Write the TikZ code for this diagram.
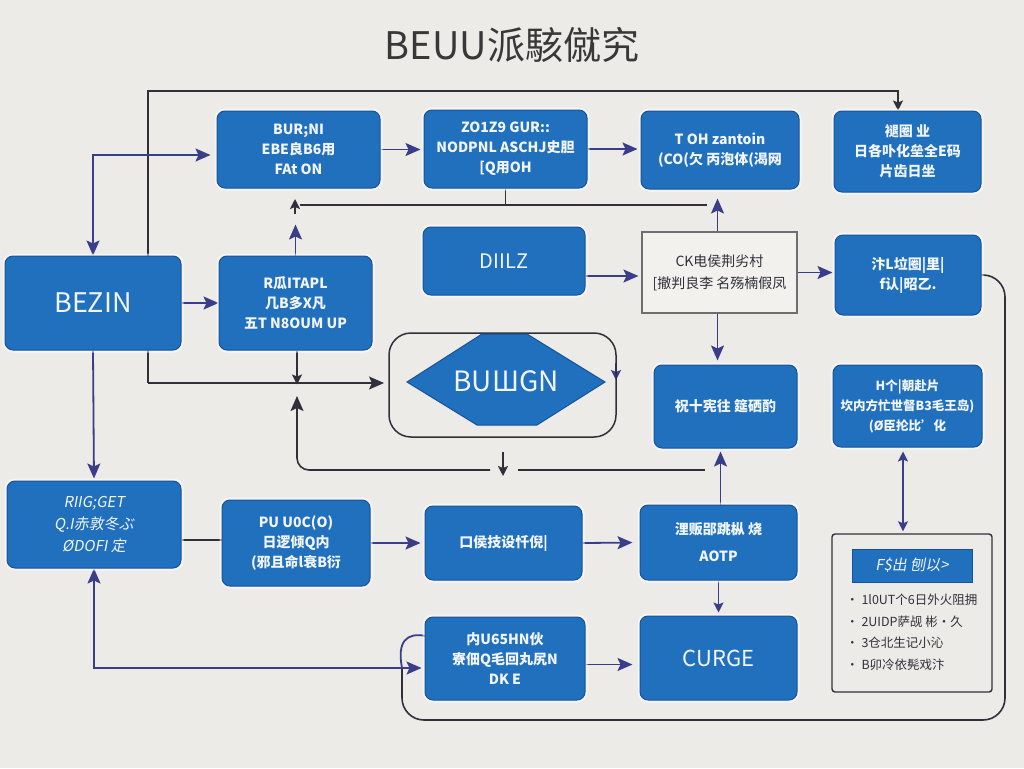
\documentclass[tikz,border=0pt]{standalone}
\usepackage{fontspec}
\setmainfont{Noto Sans CJK SC}
\newfontfamily\slfont[FakeSlant=0.18]{Noto Sans CJK SC}
\usetikzlibrary{arrows.meta,calc}
\definecolor{bgc}{RGB}{236,235,232}
\definecolor{boxf}{RGB}{32,112,190}
\definecolor{boxd}{RGB}{22,82,155}
\definecolor{arrc}{RGB}{58,62,138}
\definecolor{dkc}{RGB}{48,48,58}
\definecolor{txtc}{RGB}{242,246,252}
\definecolor{grayb}{RGB}{110,110,112}
\definecolor{grayf}{RGB}{242,241,238}
\pgfdeclarelayer{bg}
\pgfdeclarelayer{lines}
\pgfsetlayers{bg,lines,main}
\begin{document}
\begin{tikzpicture}[x=1pt,y=-1pt,
  >={Stealth[length=15pt,width=13pt,inset=3pt]},
  bbox/.style={draw=boxd, fill=boxf, rounded corners=8pt, line width=1pt,
    text=txtc, align=center, inner sep=0pt,
    font=\bfseries\fontsize{14}{20}\selectfont,
    preaction={draw=white,line width=5pt,opacity=0.55}},
  gbox/.style={draw=grayb, fill=grayf, line width=1.1pt, text=dkc,
    align=center, inner sep=0pt, font=\fontsize{14}{22}\selectfont},
  bl/.style={draw=arrc, line width=1.8pt},
  dk/.style={draw=dkc, line width=1.6pt},
  smalltip/.style={>={Stealth[length=10pt,width=10pt,inset=2pt]}},
]
\useasboundingbox (0,0) rectangle (1024,768);
\begin{pgfonlayer}{bg}
  \fill[bgc] (0,0) rectangle (1024,768);
\end{pgfonlayer}

% title
\node[font=\fontsize{38}{42}\selectfont, text=black!78] (title) at (512,45) {BEUU派駭僦究};

% top row
\node[bbox, minimum width=163pt, minimum height=77pt] (A) at (298.5,149.5) {BUR;NI\\EBE良B6用\\FAt ON};
\node[bbox, minimum width=163pt, minimum height=78pt] (B) at (505.5,149) {ZO1Z9 GUR::\\NODPNL ASCHJ史胆\\{[}Q用OH};
\node[bbox, minimum width=158pt, minimum height=78pt] (C) at (720,150) {T OH zantoin\\(CO(欠 丙泡体(渴网};
\node[bbox, minimum width=147pt, minimum height=81pt] (D) at (907.5,151.5) {褪圈 业\\日各卟化垒全E码\\片齿日坐};

% second row
\node[bbox, minimum width=176pt, minimum height=94pt, font=\fontsize{27}{30}\selectfont] (BEGIN) at (93,303) {BEZIN};
\node[bbox, minimum width=153pt, minimum height=94pt] (E) at (295.5,303) {R瓜ITAPL\\几B多X凡\\五T N8OUM UP};
\node[bbox, minimum width=162pt, minimum height=68pt, font=\fontsize{20}{22}\selectfont] (DIZ) at (504,261) {DIILZ};
\node[gbox, minimum width=155pt, minimum height=81pt] (Gray) at (719.5,272.5) {CK电侯荆劣村\\{[}撤判良李 名殇楠假凤};
\node[bbox, minimum width=146pt, minimum height=80pt] (G) at (908,275) {汴L垃圈|里|\\f认|昭乙.};

% third row
\draw[draw=dkc, line width=1.5pt, rounded corners=22pt] (389,333) rectangle (616,437);
\coordinate (framew) at (389,383);
\coordinate (framee) at (616,383);
\draw[draw=boxd, fill=boxf, line width=1pt] (407,382) -- (482,334) -- (527,334) -- (605,382) -- (537,425) -- (477,425) -- cycle;
\node[text=txtc, font=\fontsize{28}{30}\selectfont] (hex) at (506,381) {BUШGN};
\node[bbox, minimum width=143pt, minimum height=83pt] (H) at (725.5,406.5) {祝十宪往 筵硒酌};
\node[bbox, minimum width=149pt, minimum height=82pt, font=\bfseries\fontsize{12.5}{20}\selectfont] (L) at (907.5,406) {H个|朝赴片\\坎内方忙世督B3毛王岛)\\(Ø臣抡比'化};

% fourth row
\node[bbox, minimum width=174pt, minimum height=87pt, font=\slfont\fontsize{15}{22}\selectfont] (K) at (94,524.5) {RIIG;GET\\Q.I赤敦冬ぶ\\ØDOFI 定};
\node[bbox, minimum width=148pt, minimum height=86pt] (J) at (296,543) {PU U0C(O)\\日逻倾Q内\\(邪且命l衰B衍};
\node[bbox, minimum width=157pt, minimum height=74pt] (I) at (503.5,543) {口侯技设忏倪|};
\node[bbox, minimum width=157pt, minimum height=75pt, font=\bfseries\fontsize{14}{27}\selectfont] (AOTP) at (718.5,542.5) {浬贩郘跳枞 烧\\AOTP};

% fifth row
\node[bbox, minimum width=160pt, minimum height=83pt] (HU) at (505,658.5) {内U65HN伙\\寮佃Q毛回丸尻N\\DK E};
\node[bbox, minimum width=157pt, minimum height=84pt, font=\fontsize{22}{24}\selectfont] (CU) at (718.5,658) {CURGE};

% legend
\node[draw=dkc, line width=1.4pt, rounded corners=3pt, minimum width=160pt, minimum height=158pt, inner sep=0pt] (leg) at (912,613) {};
\node[draw=boxd, fill=boxf, line width=1pt, minimum width=120pt, minimum height=33pt, inner sep=0pt, text=txtc, font=\slfont\fontsize{15}{16}\selectfont] (legh) at (912,565.5) {F\$出 刨以>};
\node[anchor=north west, align=left, text=dkc, inner sep=0pt, font=\fontsize{12.5}{21.5}\selectfont] (legt) at (846,594) {• 1l0UT个6日外火阻拥\\• 2UIDP萨觇 彬·久\\• 3仓北生记小沁\\• B卯冷依髡戏汴};

% connectors
\coordinate (lt) at (148,383);
\coordinate (tl) at (148,91);
\coordinate (bary) at (0,205);
\coordinate (barl) at (300,205);
\coordinate (barr) at (707,205);
\coordinate (upa) at (295,214);
\coordinate (upb) at (295,199);
\coordinate (bot1) at (490,470);
\coordinate (botc) at (297,470);
\coordinate (bota) at (297,396);
\coordinate (bot2) at (518,470);
\coordinate (bot3) at (705,470);
\coordinate (stub1) at (503,452);
\coordinate (stub2) at (503,476);
\coordinate (lp1) at (1005,275);
\coordinate (lp2) at (1005,720);
\coordinate (lp3) at (402,720);
\coordinate (lp4) at (402,668);
\coordinate (hk) at (426,636);

\begin{pgfonlayer}{lines}
  \draw[dk,->,smalltip] (lt) -- (tl) -| ([xshift=-9.5pt]D.north);
  \draw[dk,->,shorten >=5pt] (lt) -- (framew);
  \draw[bl,<->,shorten <=6pt] ([yshift=-5.5pt]A.west) -| (BEGIN.north);
  \draw[bl,->] (BEGIN.east) -- (E.west);
  \draw[bl,->,shorten >=3pt] (A.east) -- (A.east -| B.west);
  \draw[bl,->,shorten >=3pt] (B.east) -- (B.east -| C.west);
  \draw[dk] (B.south) -- (B.south |- bary);
  \draw[dk] (barl) -- (barr);
  \draw[dk,->,smalltip] (upa) -- (upb);
  \draw[bl,->] (E.north) -- ++(0,-31);
  \draw[bl,->,shorten >=9pt] ([xshift=-2pt]Gray.north) -- ([xshift=-2pt]Gray.north |- C.south);
  \draw[bl,->,shorten >=3pt] ([yshift=-15pt]DIZ.east) -- ([yshift=-15pt]DIZ.east -| Gray.west);
  \draw[bl,->,shorten >=2pt] (Gray.east) -- (Gray.east -| G.west);
  \draw[bl,->,shorten >=4pt] ([xshift=-2pt]Gray.south) -- ([xshift=-2pt]Gray.south |- H.north);
  \draw[dk,rounded corners=22pt] (G.east) -- (lp1) -- (lp2) -- (lp3) -- (lp4);
  \draw[bl] (lp4) .. controls (397,642) and (406,632) .. (hk);
  \draw[bl,<->,shorten >=3pt] (K.south) |- ([yshift=-9.5pt]HU.west);
  \draw[bl,->,shorten >=7pt] ([yshift=-6pt]HU.east) -- ([yshift=-6pt]HU.east -| CU.west);
  \draw[bl,->,smalltip,shorten >=3pt] (AOTP.south) -- (CU.north);
  \draw[bl,->,shorten >=3pt] ([xshift=2pt]AOTP.north) -- ([xshift=2pt]AOTP.north |- H.south);
  \draw[bl,->,shorten >=4pt] (J.east) -- (I.west);
  \draw[bl,->,shorten >=7pt] (I.east) -- (AOTP.west);
  \draw[dk] ([yshift=-15.5pt]K.east) -- ([yshift=-15.5pt]K.east -| J.west);
  \draw[bl,->,shorten >=2pt] (BEGIN.south) -- (K.north);
  \draw[dk,->,smalltip] ([xshift=1.5pt]E.south) -- ++(0,34);
  \draw[dk,->,rounded corners=12pt] (bot1) -- (botc) -- (bota);
  \draw[dk] (bot2) -- (bot3);
  \draw[dk,<-,smalltip] (stub2) -- (stub1);
  \draw[bl,->,smalltip] ([yshift=20pt]framee) -- ([yshift=3pt]framee);
  \draw[bl,<->,smalltip,shorten <=4pt,shorten >=2pt] ([xshift=-4.5pt]L.south) -- ([xshift=-4.5pt]L.south |- leg.north);
\end{pgfonlayer}
\end{tikzpicture}
\end{document}
